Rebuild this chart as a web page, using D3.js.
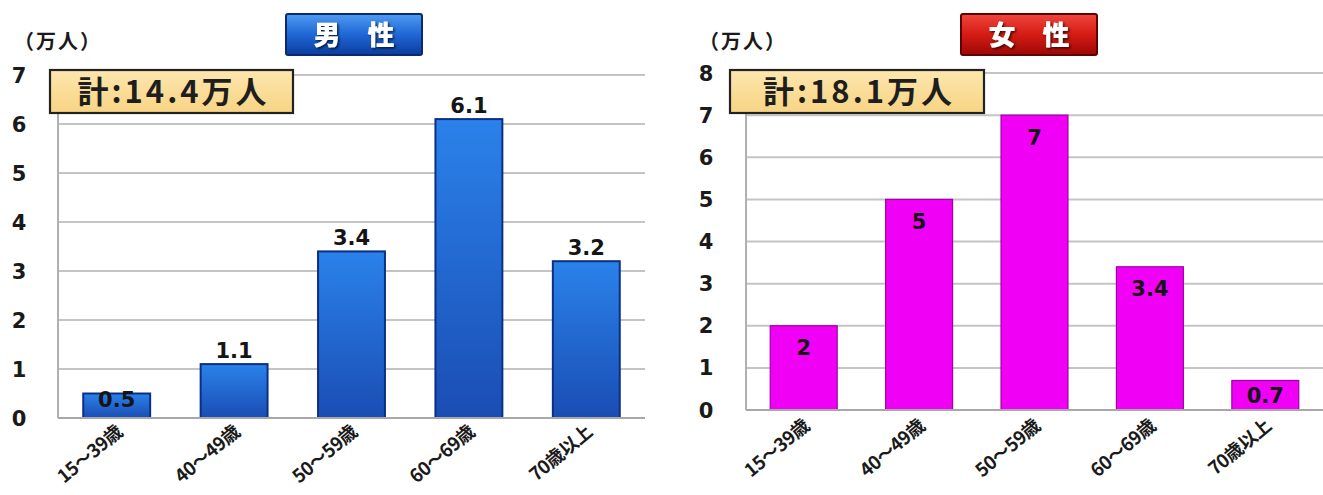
<!DOCTYPE html>
<html><head><meta charset="utf-8">
<script src="https://cdn.jsdelivr.net/npm/d3@7"></script>
<style>
body{margin:0;background:#fff;}
svg{display:block;}
</style></head>
<body><svg id="c" width="1323" height="495"></svg>
<script>
const categories = ["15～39歳","40～49歳","50～59歳","60～69歳","70歳以上"];
const maleValues = [0.5, 1.1, 3.4, 6.1, 3.2];
const femaleValues = [2, 5, 7, 3.4, 0.7];
const maleTicks = [0,1,2,3,4,5,6,7];
const femaleTicks = [0,1,2,3,4,5,6,7,8];
const maleTitle = "男　性";
const femaleTitle = "女　性";
const maleTotal = "計:14.4万人";
const femaleTotal = "計:18.1万人";
const unitLabel = "（万人）";

const svg = d3.select("#c");
const defs = svg.append("defs");
function lg(id, stops){
  const g = defs.append("linearGradient").attr("id",id).attr("x1",0).attr("y1",0).attr("x2",0).attr("y2",1);
  stops.forEach(s=>g.append("stop").attr("offset",s[0]).attr("stop-color",s[1]));
}
lg("blueBar",[[0,"#2a82ea"],[1,"#1a4db4"]]);
lg("blueTitle",[[0,"#4f9cf2"],[0.5,"#1f67d6"],[1,"#0b3c9e"]]);
lg("redTitle",[[0,"#f0463c"],[0.5,"#d41c14"],[1,"#9c0806"]]);
lg("totalFill",[[0,"#fde6ae"],[1,"#f8d483"]]);
const f = defs.append("filter").attr("id","shadow");
f.append("feDropShadow").attr("dx",1.5).attr("dy",1.5).attr("stdDeviation",0.8).attr("flood-color","#000").attr("flood-opacity",0.7);

const numFont = "'DejaVu Sans', Verdana, 'Noto Sans CJK JP', sans-serif";
const jpFont = "'Noto Sans CJK JP', 'Liberation Sans', sans-serif";

function panel(cfg){
  const g = svg.append("g");
  const x = d3.scaleBand().domain(categories).range([cfg.x0, cfg.x1]).paddingInner(cfg.pad).paddingOuter(cfg.pad/2);
  const y = d3.scaleLinear().domain([0, d3.max(cfg.ticks)]).range([cfg.y0, cfg.y1]);

  g.append("g").selectAll("line").data(cfg.ticks.filter(t=>t>0)).join("line")
    .attr("x1",cfg.x0).attr("x2",cfg.x1).attr("y1",d=>y(d)).attr("y2",d=>y(d))
    .attr("stroke","#c4c4c4").attr("stroke-width",2);
  g.append("line").attr("x1",cfg.x0).attr("x2",cfg.x0).attr("y1",y(d3.max(cfg.ticks))).attr("y2",cfg.y0)
    .attr("stroke","#b0b0b0").attr("stroke-width",2);
  g.append("g").selectAll("text").data(cfg.ticks).join("text")
    .attr("x",cfg.tickX).attr("y",d=>y(d)).attr("dy","0.36em").attr("text-anchor","middle")
    .attr("font-family",numFont).attr("font-weight","bold").attr("font-size",21).attr("fill","#1a1a1a")
    .text(d=>d);

  g.append("g").selectAll("rect").data(cfg.values).join("rect")
    .attr("x",(d,i)=>x(categories[i])).attr("width",x.bandwidth())
    .attr("y",d=>y(d)).attr("height",d=>cfg.y0-y(d))
    .attr("fill",cfg.barFill).attr("stroke",cfg.barStroke).attr("stroke-width",cfg.barStrokeW);

  g.append("line").attr("x1",cfg.x0).attr("x2",cfg.x1).attr("y1",cfg.y0).attr("y2",cfg.y0)
    .attr("stroke","#a8a8a8").attr("stroke-width",2);

  g.append("g").selectAll("text").data(cfg.values).join("text")
    .attr("x",(d,i)=>x(categories[i])+x.bandwidth()/2)
    .attr("y",d=>cfg.labelY(y(d), cfg.y0, d)).attr("dy","0.36em").attr("text-anchor","middle")
    .attr("font-family",numFont).attr("font-weight","bold").attr("font-size",21).attr("fill","#151515")
    .text(d=>d);

  g.append("g").selectAll("text").data(categories).join("text")
    .attr("transform",d=>`translate(${x(d)+x.bandwidth()/2+3},${cfg.y0+cfg.labelOff}) rotate(-40)`)
    .attr("text-anchor","end").attr("dy","0.35em")
    .attr("font-family",jpFont).attr("font-weight","bold").attr("font-size",18.5).attr("fill","#1a1a1a")
    .attr("letter-spacing",-0.5)
    .text(d=>d);

  g.append("text").attr("x",cfg.unitX).attr("y",42).attr("dy","0.36em")
    .attr("font-family",jpFont).attr("font-weight","bold").attr("font-size",20).attr("fill","#1a1a1a")
    .attr("letter-spacing",2)
    .text(unitLabel);

  g.append("rect").attr("x",cfg.titleX).attr("y",14).attr("width",136).attr("height",41)
    .attr("fill",`url(#${cfg.titleGrad})`).attr("stroke",cfg.titleStroke).attr("stroke-width",2).attr("rx",2);
  g.append("text").attr("x",cfg.titleX+68).attr("y",35).attr("dy","0.36em").attr("text-anchor","middle")
    .attr("font-family",jpFont).attr("font-weight","900").attr("font-size",27).attr("fill","#fff")
    .attr("filter","url(#shadow)").text(cfg.title);

  g.append("rect").attr("x",cfg.totalX).attr("y",70).attr("width",cfg.totalW).attr("height",43)
    .attr("fill","url(#totalFill)").attr("stroke","#222").attr("stroke-width",2.2);
  g.append("text").attr("x",cfg.totalX+cfg.totalW/2+2).attr("y",92).attr("dy","0.36em").attr("text-anchor","middle")
    .attr("font-family",jpFont).attr("font-weight","bold").attr("font-size",31).attr("fill","#1e1e1e")
    .attr("letter-spacing",3)
    .text(cfg.total);
}

panel({
  x0:58, x1:645, pad:0.43, y0:418, y1:75, ticks:maleTicks, values:maleValues, tickX:19, labelOff:11,
  barFill:"url(#blueBar)", barStroke:"#0c2f86", barStrokeW:2,
  labelY:(top,base,v)=> v<1 ? top+6 : top-14,
  unitX:14, titleX:286, titleGrad:"blueTitle", titleStroke:"#0a2a70", title:maleTitle,
  totalX:50, totalW:243, total:maleTotal
});
panel({
  x0:746, x1:1323, pad:0.42, y0:410, y1:73, ticks:femaleTicks, values:femaleValues, tickX:706, labelOff:13,
  barFill:"#f000f5", barStroke:"#a000a8", barStrokeW:1.2,
  labelY:(top,base,v)=> Math.min(top+22,(top+base)/2),
  unitX:699, titleX:961, titleGrad:"redTitle", titleStroke:"#600000", title:femaleTitle,
  totalX:730, totalW:254, total:femaleTotal
});
</script></body></html>
